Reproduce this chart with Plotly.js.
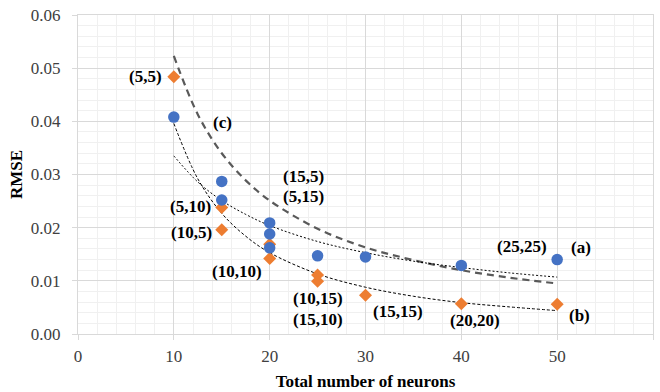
<!DOCTYPE html>
<html>
<head>
<meta charset="utf-8">
<script src="https://cdn.plot.ly/plotly-3.0.1.min.js"></script>
<style>
html,body{margin:0;padding:0;background:#fff;}
svg text{font-family:'Liberation Serif' !important;}
</style>
</head>
<body>
<div id="chart"></div>
<script>
// Series (a): blue circles
var aX = [10, 15, 15, 20, 20, 20, 25, 30, 40, 50];
var aY = [0.0408, 0.0287, 0.0252, 0.0209, 0.0188, 0.0162, 0.0147, 0.0145, 0.0129, 0.0140];
// Series (b): orange diamonds
var bX = [10, 15, 15, 20, 20, 25, 25, 30, 40, 50];
var bY = [0.0484, 0.0238, 0.0196, 0.0169, 0.0142, 0.0111, 0.0099, 0.0073, 0.0057, 0.0056];
// Trend curves
var curveX = [10, 12.5, 15, 17.5, 20, 25, 30, 35, 40, 45, 50];
var curveC = [0.0523, 0.0413, 0.0340, 0.0289, 0.0251, 0.0198, 0.0163, 0.0139, 0.0120, 0.0106, 0.0095];
var curveA = [0.0335, 0.0286, 0.0251, 0.0225, 0.0204, 0.0174, 0.0153, 0.0137, 0.0125, 0.0115, 0.0107];
var curveB = [0.0396, 0.0292, 0.0227, 0.0184, 0.0153, 0.0113, 0.0088, 0.0071, 0.0059, 0.0051, 0.0044];
// Labels
var labText = ["(5,5)", "(c)", "(15,5)", "(5,15)", "(5,10)", "(10,5)", "(10,10)", "(10,15)", "(15,10)", "(15,15)", "(20,20)", "(25,25)", "(a)", "(b)"];
var labX = [7.0, 15.05, 23.5, 23.5, 11.7, 11.8, 16.6, 25.05, 25.05, 33.4, 41.4, 46.3, 52.45, 52.35];
var labY = [0.0485, 0.0397, 0.0297, 0.0258, 0.0239, 0.0190, 0.01185, 0.0066, 0.0028, 0.0043, 0.00245, 0.01655, 0.01636, 0.0034];
var xTicks = [0, 10, 20, 30, 40, 50, 60];
var yTicks = [0, 0.01, 0.02, 0.03, 0.04, 0.05, 0.06];

var FONT = 'Liberation Serif';

var traces = [
  {x: curveX, y: curveC, mode: 'lines', line: {shape: 'spline', color: '#595959', width: 2.2, dash: '7px,5px'}, hoverinfo: 'skip'},
  {x: curveX, y: curveA, mode: 'lines', line: {shape: 'spline', color: '#000000', width: 1, dash: '2px,2px'}, hoverinfo: 'skip'},
  {x: curveX, y: curveB, mode: 'lines', line: {shape: 'spline', color: '#000000', width: 1, dash: '3px,2px'}, hoverinfo: 'skip'},
  {x: bX, y: bY, mode: 'markers', marker: {symbol: 'diamond', size: 10, color: '#ED7D31'}},
  {x: aX, y: aY, mode: 'markers', marker: {symbol: 'circle', size: 11.5, color: '#4472C4'}}
];

var annotations = labText.map(function (t, i) {
  return {x: labX[i], y: labY[i], xref: 'x', yref: 'y', text: '<b>' + t + '</b>', showarrow: false,
    font: {family: FONT, size: 17, color: '#000000'},
    xanchor: 'center', yanchor: 'middle'};
});

var layout = {
  width: 660, height: 392,
  margin: {l: 78, r: 7, t: 15, b: 58},
  paper_bgcolor: '#ffffff', plot_bgcolor: '#ffffff',
  showlegend: false,
  font: {family: FONT, size: 17, color: '#404040'},
  xaxis: {
    range: [0, 60], tickvals: xTicks, ticktext: xTicks.map(String),
    showgrid: true, gridcolor: '#d9d9d9', gridwidth: 1,
    minor: {dtick: 2, showgrid: true, gridcolor: '#f0f0f0', gridwidth: 1},
    showline: true, mirror: true, linecolor: '#d9d9d9', linewidth: 1,
    ticks: 'outside', ticklen: 5, tickcolor: '#d9d9d9', ticklabelstandoff: 2,
    zeroline: false,
    tickfont: {family: FONT, size: 17, color: '#404040'},
    title: {text: '<b>Total number of neurons</b>', font: {family: FONT, size: 17, color: '#000000'}, standoff: 9}
  },
  yaxis: {
    range: [0, 0.06], tickvals: yTicks, ticktext: yTicks.map(function (v) { return v.toFixed(2); }),
    showgrid: true, gridcolor: '#d9d9d9', gridwidth: 1,
    minor: {dtick: 0.002, showgrid: true, gridcolor: '#f0f0f0', gridwidth: 1},
    showline: true, mirror: true, linecolor: '#d9d9d9', linewidth: 1,
    ticks: 'outside', ticklen: 5, tickcolor: '#d9d9d9', ticklabelstandoff: 8,
    zeroline: false,
    tickfont: {family: FONT, size: 17, color: '#404040'},
    title: {text: '<b>RMSE</b>', font: {family: FONT, size: 17, color: '#000000'}, standoff: 3}
  },
  annotations: annotations
};

Plotly.newPlot('chart', traces, layout, {displayModeBar: false, staticPlot: true});
</script>
</body>
</html>
